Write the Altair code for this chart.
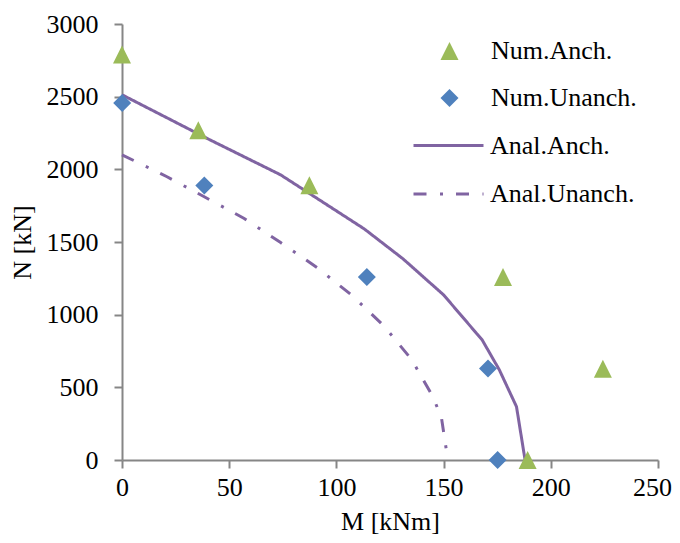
import altair as alt
import pandas as pd

# ---- data ----
num_series = ["Num.Anch.", "Num.Unanch."]
num_anch_M = [0, 35.6, 87.4, 177.7, 224.3, 189.2]
num_anch_N = [2790, 2269, 1890, 1259, 628, 0]
num_unanch_M = [0.1, 38.4, 114.2, 170.7, 175.2]
num_unanch_N = [2456, 1889, 1259, 629, 0]

anal_series = ["Anal.Anch.", "Anal.Unanch."]
anal_anch_M = [0, 41, 74, 113, 131, 150, 168, 176, 184, 188]
anal_anch_N = [2513, 2203, 1962, 1590, 1385, 1136, 826, 620, 367, 0]
anal_unanch_M = [0, 21, 39, 57, 74, 91, 107, 122, 135, 145, 149, 151, 152]
anal_unanch_N = [2100, 1949, 1806, 1662, 1496, 1324, 1136, 925, 693, 436, 291, 96, 0]

x_ticks = [0, 50, 100, 150, 200, 250]
y_ticks = [0, 500, 1000, 1500, 2000, 2500, 3000]

# ---- tables ----
pts = pd.DataFrame(
    [{"M": m, "N": n, "num": num_series[0]} for m, n in zip(num_anch_M, num_anch_N)]
    + [{"M": m, "N": n, "num": num_series[1]} for m, n in zip(num_unanch_M, num_unanch_N)]
)
lns = pd.DataFrame(
    [{"M": m, "N": n, "anal": anal_series[0], "idx": i} for i, (m, n) in enumerate(zip(anal_anch_M, anal_anch_N))]
    + [{"M": m, "N": n, "anal": anal_series[1], "idx": i} for i, (m, n) in enumerate(zip(anal_unanch_M, anal_unanch_N))]
)

FONT = "Liberation Serif"
FS = 26
GREY = "#868686"
PURPLE = "#8064A2"

x_axis = alt.Axis(
    values=x_ticks, title="M [kNm]", grid=False, format="d",
    domainColor=GREY, domainWidth=2, tickColor=GREY, tickWidth=2, tickSize=8,
    labelFont=FONT, labelFontSize=FS, labelColor="black", labelPadding=6,
    labelFlush=False, labelOverlap=False,
    labelOffset={"condition": {"test": "datum.value == 250", "value": -6}, "value": 0},
    titleFont=FONT, titleFontSize=FS, titleFontWeight="normal", titleColor="black",
    titleY=69.5, titleBaseline="alphabetic",
)
y_axis = alt.Axis(
    values=y_ticks, title="N [kN]", grid=False, format="d",
    domainColor=GREY, domainWidth=2, tickColor=GREY, tickWidth=2, tickSize=8,
    labelFont=FONT, labelFontSize=FS, labelColor="black", labelPadding=16,
    labelFlush=False, labelOverlap=False,
    titleFont=FONT, titleFontSize=FS, titleFontWeight="normal", titleColor="black",
    titleX=-92, titleY=218, titleBaseline="alphabetic", titleAlign="center", titleAngle=270,
)

X = alt.X("M:Q", scale=alt.Scale(domain=[0, 250], nice=False, zero=False), axis=x_axis)
Y = alt.Y("N:Q", scale=alt.Scale(domain=[0, 3000], nice=False, zero=False), axis=y_axis)

leg_pts = alt.Legend(
    orient="none", legendX=314.5, legendY=14, title=None, padding=0,
    labelFont=FONT, labelFontSize=FS, labelColor="black", labelLimit=0,
    labelOffset=28.5, rowPadding=21, symbolSize=324, symbolStrokeWidth=0,
    symbolOpacity=1,
)
leg_lns = alt.Legend(
    orient="none", legendX=311, legendY=106, title=None, padding=0,
    labelFont=FONT, labelFontSize=FS, labelColor="black", labelLimit=0,
    labelOffset=26, rowPadding=19.5, symbolType="M-2.5,0H2.5", symbolSize=784,
    symbolStrokeWidth=3, symbolStrokeColor=PURPLE, symbolOpacity=1,
)

lines = alt.Chart(lns).mark_line(color=PURPLE, strokeWidth=3).encode(
    x=X, y=Y,
    strokeDash=alt.StrokeDash(
        "anal:N",
        scale=alt.Scale(domain=anal_series, range=[[1, 0], [13, 13.5, 3, 13]]),
        legend=leg_lns,
    ),
    order="idx:Q",
)

points = alt.Chart(pts).mark_point(filled=True, opacity=1, size=324, strokeWidth=0).encode(
    x=X, y=Y,
    color=alt.Color("num:N", scale=alt.Scale(domain=num_series, range=["#9BBB59", "#4F81BD"]), legend=leg_pts),
    shape=alt.Shape("num:N", scale=alt.Scale(domain=num_series, range=["M0,-1L1,1L-1,1Z", "diamond"]), legend=leg_pts),
)

chart = alt.layer(lines, points).properties(
    width=536, height=436,
    padding={"left": 114, "top": 16, "right": 14, "bottom": 75},
    autosize=alt.AutoSizeParams(type="none"),
).configure_view(stroke=None)

chart.save("out.html", embed_options={"renderer": "svg", "actions": False})
